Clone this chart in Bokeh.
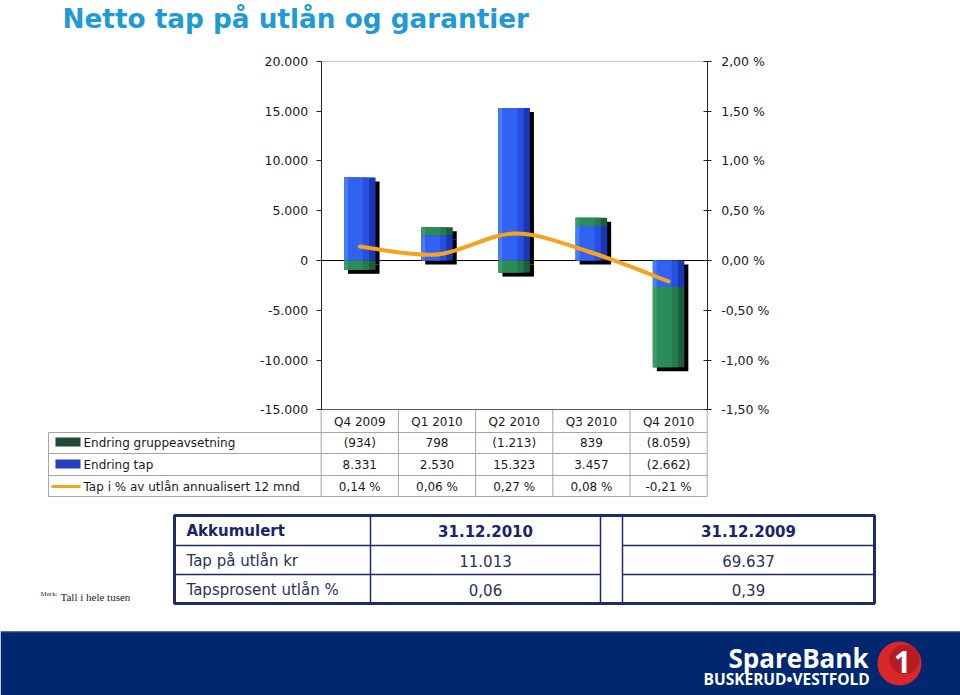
import numpy as np
from bokeh.plotting import figure
from bokeh.models import Range1d, LinearAxis, FixedTicker, Grid
from bokeh.core.properties import value
from bokeh.embed import file_html
from bokeh.resources import INLINE

# ---------------- data ----------------
title_text = "Netto tap på utlån og garantier"
quarters = ["Q4 2009", "Q1 2010", "Q2 2010", "Q3 2010", "Q4 2010"]
gruppe = [-934, 798, -1213, 839, -8059]          # Endring gruppeavsetning
tap = [8331, 2530, 15323, 3457, -2662]            # Endring tap
tap_pct = [0.14, 0.06, 0.27, 0.08, -0.21]         # Tap i % av utlån annualisert 12 mnd
series_names = ["Endring gruppeavsetning", "Endring tap",
                "Tap i % av utlån annualisert 12 mnd"]
left_ticks = [-15000, -10000, -5000, 0, 5000, 10000, 15000, 20000]
left_tick_labels = ["-15.000", "-10.000", "-5.000", "0", "5.000", "10.000", "15.000", "20.000"]
right_ticks = [-1.5, -1.0, -0.5, 0.0, 0.5, 1.0, 1.5, 2.0]
right_tick_labels = ["-1,50 %", "-1,00 %", "-0,50 %", "0,00 %", "0,50 %", "1,00 %", "1,50 %", "2,00 %"]
summary_header = ["Akkumulert", "31.12.2010", "31.12.2009"]
summary_rows = ["Tap på utlån kr", "Tapsprosent utlån %"]
summary_2010 = [11013, 0.06]
summary_2009 = [69637, 0.39]
note_prefix = "Merk:"
note_text = "Tall i hele tusen"
logo_main = "SpareBank"
logo_sub = "BUSKERUD\u2022VESTFOLD"
logo_num = "1"

# ---------------- helpers ----------------
def fmt_thousands(v):
    s = f"{abs(int(v)):,}".replace(",", ".")
    return f"({s})" if v < 0 else s

def fmt_pct(v):
    return f"{v:.2f}".replace(".", ",") + " %"

def fmt_dec(v):
    return f"{v:.2f}".replace(".", ",")

# ---------------- layout (page pixels) ----------------
W, H = 960, 695
OX, OY = 0, 0
X0, STEP = 359.3, 77.2      # page x of first category centre, px per category
Y0, PXU = 260.0, 0.00996    # page y of zero, px per unit
x_start = (OX - X0) / STEP
x_end = (OX + W - X0) / STEP
y_end = (Y0 - OY) / PXU
y_start = (Y0 - (OY + H)) / PXU

FONT = "DejaVu Sans"

p = figure(width=W, height=H, x_range=Range1d(x_start, x_end),
           y_range=Range1d(y_start, y_end), output_backend="svg",
           toolbar_location=None, x_axis_location=None, y_axis_location=None,
           min_border=0, outline_line_color=None)
p.min_border_left = p.min_border_right = p.min_border_top = p.min_border_bottom = 0
p.center = [r for r in p.center if not isinstance(r, Grid)]
p.background_fill_color = "white"
p.border_fill_color = "white"
p.extra_y_ranges = {"pct": Range1d(y_start / 10000.0, y_end / 10000.0),
                    "py": Range1d(OY + H, OY)}
p.extra_x_ranges = {"px": Range1d(OX, OX + W)}

n = len(quarters)
xs = np.arange(n, dtype=float)

# ---------------- axes ----------------
def plain_axis(**kw):
    return LinearAxis(ticker=FixedTicker(ticks=[]), major_label_text_font_size="0px",
                      major_tick_line_color=None, minor_tick_line_color=None, **kw)

zero_axis = plain_axis(fixed_location=0, bounds=(-0.5, n - 0.45), axis_line_color="black",
                       axis_line_width=1)
zero_axis.level = "underlay"
p.add_layout(zero_axis, "below")

top_axis = plain_axis(fixed_location=left_ticks[-1], bounds=(-0.5, n - 0.5),
                      axis_line_color="#c8c8c8", axis_line_width=1)
top_axis.level = "underlay"
p.add_layout(top_axis, "above")

bottom_axis = plain_axis(fixed_location=left_ticks[0], bounds=(-0.5, n - 0.5),
                         axis_line_color="#606060", axis_line_width=1)
p.add_layout(bottom_axis, "below")

left_axis = LinearAxis(fixed_location=-0.5, bounds=(left_ticks[0], left_ticks[-1]),
                       ticker=FixedTicker(ticks=left_ticks),
                       major_label_overrides=dict(zip(left_ticks, left_tick_labels)))
right_axis = LinearAxis(y_range_name="pct", fixed_location=n - 0.5,
                        bounds=(right_ticks[0], right_ticks[-1]),
                        ticker=FixedTicker(ticks=right_ticks),
                        major_label_overrides=dict(zip(right_ticks, right_tick_labels)))
for ax in (left_axis, right_axis):
    ax.axis_line_color = "#222222"
    ax.major_tick_line_color = "#222222"
    ax.minor_tick_line_color = None
    ax.major_label_text_font = FONT
    ax.major_label_text_font_size = "12.5px"
    ax.major_label_text_color = "#1a1a1a"
left_axis.major_tick_out = 5
left_axis.major_tick_in = 0
left_axis.major_label_standoff = 8
right_axis.major_tick_out = 4
right_axis.major_tick_in = 4
right_axis.major_label_standoff = 10
p.add_layout(left_axis, "left")
p.add_layout(right_axis, "right")

# ---------------- bars (stacked, with shadow & shading) ----------------
bw = 31.5 / STEP
dx = 4.0 / STEP
dy = 4.0 / PXU

pos_base = [0.0] * n
neg_base = [0.0] * n
stacks = []
blue_shades = ["#1a36b4", "#2550e0", "#3262f2", "#4a7cf6"]
green_shades = ["#1b5e3d", "#247c4d", "#2b8c5a", "#3a9c68"]
for series, shades in [(tap, blue_shades), (gruppe, green_shades)]:
    bottoms, tops = [], []
    for i, v in enumerate(series):
        if v >= 0:
            b = pos_base[i]; t = b + v; pos_base[i] = t
        else:
            b = neg_base[i]; t = b + v; neg_base[i] = t
        bottoms.append(b); tops.append(t)
    stacks.append((np.array(bottoms), np.array(tops), shades))

for bottoms, tops, shades in stacks:
    p.vbar(x=xs + dx, bottom=bottoms - dy, top=tops - dy, width=bw,
           fill_color="black", line_color=None)
for bottoms, tops, shades in stacks:
    p.vbar(x=xs, bottom=bottoms, top=tops, width=bw, fill_color=shades[0], line_color=None)
    p.vbar(x=xs - 0.1 * bw, bottom=bottoms, top=tops, width=0.8 * bw,
           fill_color=shades[1], line_color=None)
    p.vbar(x=xs - 0.16 * bw, bottom=bottoms, top=tops, width=0.52 * bw,
           fill_color=shades[2], line_color=None)
    p.vbar(x=xs - 0.44 * bw, bottom=bottoms, top=tops, width=0.12 * bw,
           fill_color=shades[3], line_color=None)

# ---------------- smoothed percentage line (bezier through the points) ----------------
py_ = np.array(tap_pct, dtype=float)
ext_x = np.concatenate([[xs[0]], xs, [xs[-1]]])
ext_y = np.concatenate([[py_[0]], py_, [py_[-1]]])
bx0, by0, bx1, by1, c0x, c0y, c1x, c1y = ([] for _ in range(8))
for i in range(n - 1):
    p0x, p0y = ext_x[i], ext_y[i]
    p1x, p1y = ext_x[i + 1], ext_y[i + 1]
    p2x, p2y = ext_x[i + 2], ext_y[i + 2]
    p3x, p3y = ext_x[i + 3], ext_y[i + 3]
    bx0.append(p1x); by0.append(p1y); bx1.append(p2x); by1.append(p2y)
    c0x.append(p1x + (p2x - p0x) / 6.0); c0y.append(p1y + (p2y - p0y) / 6.0)
    c1x.append(p2x - (p3x - p1x) / 6.0); c1y.append(p2y - (p3y - p1y) / 6.0)
p.bezier(x0=bx0, y0=by0, x1=bx1, y1=by1, cx0=c0x, cy0=c0y, cx1=c1x, cy1=c1y,
         line_color="#f5a21d", line_width=4, line_cap="round", y_range_name="pct")

# ---------------- title ----------------
p.text(x=[62], y=[18], text=[title_text], x_range_name="px", y_range_name="py",
       text_font=value(FONT), text_font_style="bold", text_font_size="26.3px",
       text_color="#1e9ad6", text_baseline="middle", text_align="left")

# ---------------- data table under the chart ----------------
GRID = "#a6a6a6"
edges = np.arange(n + 1) - 0.5
row_lines = [432, 453, 475, 496]
row_mid = [421, 442, 464, 486]
lab_left = 48
lab_right = X0 - 0.5 * STEP
p.segment(x0=edges, x1=edges, y0=[409] * (n + 1), y1=[496] * (n + 1),
          y_range_name="py", line_color=GRID, line_width=1)
p.segment(x0=[-0.5] * 4, x1=[n - 0.5] * 4, y0=row_lines, y1=row_lines,
          y_range_name="py", line_color=GRID, line_width=1)
p.segment(x0=[lab_left] * 4, x1=[lab_right] * 4, y0=row_lines, y1=row_lines,
          x_range_name="px", y_range_name="py", line_color=GRID, line_width=1)
p.segment(x0=[lab_left], x1=[lab_left], y0=[row_lines[0]], y1=[row_lines[-1]],
          x_range_name="px", y_range_name="py", line_color=GRID, line_width=1)

cell_x = list(xs) * 4
cell_y = [row_mid[0]] * n + [row_mid[1]] * n + [row_mid[2]] * n + [row_mid[3]] * n
cell_t = (quarters + [fmt_thousands(v) for v in gruppe]
          + [fmt_thousands(v) for v in tap] + [fmt_pct(v) for v in tap_pct])
p.text(x=cell_x, y=cell_y, text=cell_t, y_range_name="py",
       text_font=value(FONT), text_font_size="12px", text_color="#1a1a1a",
       text_align="center", text_baseline="middle")
p.quad(left=[55, 55], right=[80, 80], top=[437, 459], bottom=[446, 468],
       fill_color=["#1f4a37", "#2541bd"], line_color=None,
       x_range_name="px", y_range_name="py")
p.segment(x0=[51], x1=[80], y0=[486], y1=[486], line_color="#f5a21d", line_width=3,
          x_range_name="px", y_range_name="py")
p.text(x=[83, 83, 83], y=row_mid[1:], text=series_names, x_range_name="px",
       y_range_name="py", text_font=value(FONT), text_font_size="12px",
       text_color="#1a1a1a", text_align="left", text_baseline="middle")

# ---------------- summary table ----------------
NAVY = "#1d2b6c"
T_L, T_R, T_T, T_B = 174, 874, 515, 603
C1, C2a, C2b = 370, 600, 622
R1, R2 = 545, 574
p.quad(left=[T_L], right=[T_R], top=[T_T], bottom=[T_B], fill_color=None,
       line_color=NAVY, line_width=3, x_range_name="px", y_range_name="py")
p.segment(x0=[C1, C2a, C2b], x1=[C1, C2a, C2b], y0=[T_T] * 3, y1=[T_B] * 3,
          line_color=NAVY, line_width=1.5, x_range_name="px", y_range_name="py")
p.segment(x0=[T_L, T_L, C2b, C2b], x1=[C2a, C2a, T_R, T_R], y0=[R1, R2, R1, R2],
          y1=[R1, R2, R1, R2], line_color=NAVY, line_width=1.5,
          x_range_name="px", y_range_name="py")
rows_mid = [530, 560, 589]
col_c = [(C1 + C2a) / 2, (C2b + T_R) / 2]
p.text(x=[186], y=[rows_mid[0]], text=[summary_header[0]], x_range_name="px",
       y_range_name="py", text_font=value(FONT), text_font_style="bold",
       text_font_size="15px", text_color="#17256a", text_baseline="middle")
p.text(x=col_c, y=[rows_mid[0]] * 2, text=summary_header[1:], x_range_name="px",
       y_range_name="py", text_font=value(FONT), text_font_style="bold",
       text_font_size="15px", text_color="#17256a", text_baseline="middle",
       text_align="center")
p.text(x=[186, 186], y=rows_mid[1:], text=summary_rows, x_range_name="px",
       y_range_name="py", text_font=value(FONT), text_font_size="15px",
       text_color="#2a2f5e", text_baseline="middle")
vals = [fmt_thousands(summary_2010[0]), fmt_thousands(summary_2009[0]),
        fmt_dec(summary_2010[1]), fmt_dec(summary_2009[1])]
p.text(x=col_c * 2, y=[rows_mid[1]] * 2 + [rows_mid[2]] * 2, text=vals,
       x_range_name="px", y_range_name="py", text_font=value(FONT),
       text_font_size="15px", text_color="#2a2f5e", text_baseline="middle",
       text_align="center")

# ---------------- note ----------------
p.text(x=[40], y=[593], text=[note_prefix], x_range_name="px", y_range_name="py",
       text_font=value("Liberation Serif"), text_font_size="7px", text_color="#333333",
       text_baseline="middle")
p.text(x=[60], y=[596], text=[note_text], x_range_name="px", y_range_name="py",
       text_font=value("Liberation Serif"), text_font_size="11px", text_color="#222222",
       text_baseline="middle")

# ---------------- footer band with logo ----------------
p.quad(left=[OX], right=[OX + W], top=[631], bottom=[OY + H], fill_color="#00276f",
       line_color=None, x_range_name="px", y_range_name="py")
p.segment(x0=[OX], x1=[OX + W], y0=[631.5], y1=[631.5], line_color="#3a4f85",
          line_width=1, x_range_name="px", y_range_name="py")
p.text(x=[728], y=[657], text=[logo_main], x_range_name="px", y_range_name="py",
       text_font=value("Open Sans"), text_font_style="bold", text_font_size="26px",
       text_color="white", text_baseline="middle")
p.text(x=[703], y=[678], text=[logo_sub], x_range_name="px", y_range_name="py",
       text_font=value("Open Sans"), text_font_style="bold", text_font_size="15.5px",
       text_color="white", text_baseline="middle")
p.scatter(x=[899], y=[663], size=44, marker="circle", fill_color="#d9272e",
          line_color=None, x_range_name="px", y_range_name="py")
p.scatter(x=[904], y=[659], size=30, marker="circle", fill_color="#b51d24",
          line_color=None, x_range_name="px", y_range_name="py")
p.text(x=[902], y=[661], text=[logo_num], x_range_name="px", y_range_name="py",
       text_font=value("Open Sans"), text_font_style="bold", text_font_size="30px",
       text_color="white", text_baseline="middle", text_align="center")

open("out.html", "w").write(file_html(p, INLINE))
